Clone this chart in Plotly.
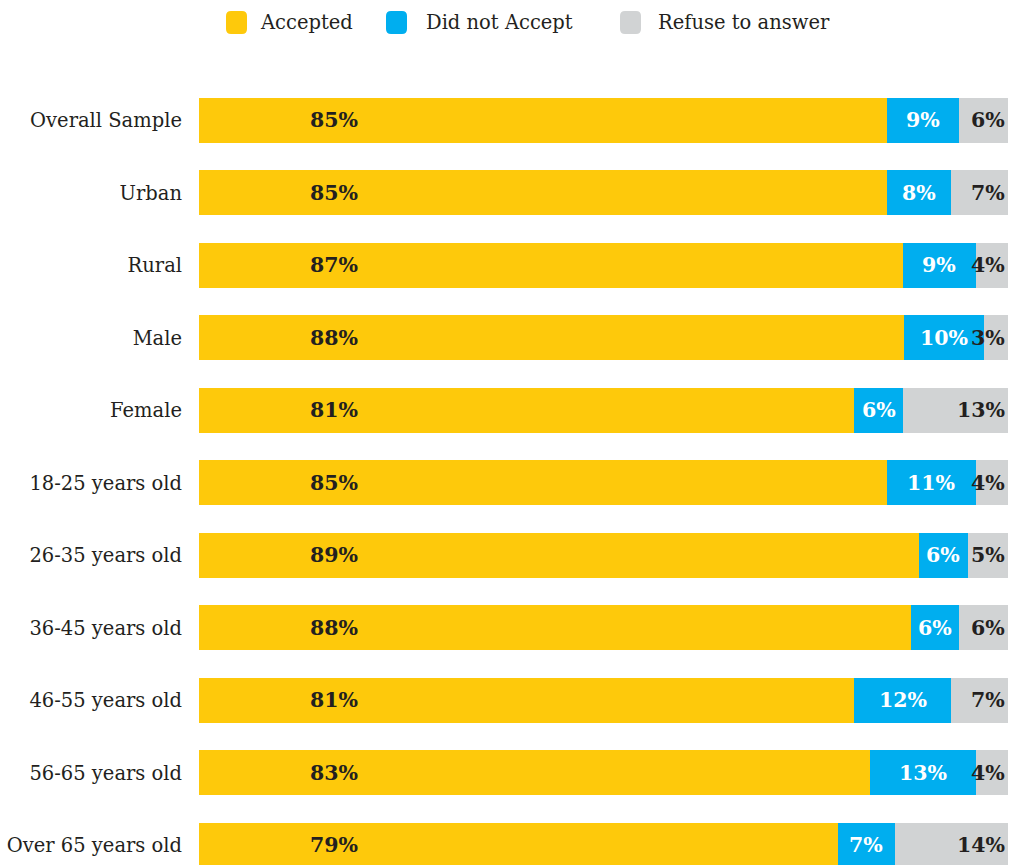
import plotly.graph_objects as go

# Survey responses by group (percent of respondents)
groups = [
    "Overall Sample", "Urban", "Rural", "Male", "Female",
    "18-25 years old", "26-35 years old", "36-45 years old",
    "46-55 years old", "56-65 years old", "Over 65 years old",
]
accepted = [85, 85, 87, 88, 81, 85, 89, 88, 81, 83, 79]
did_not_accept = [9, 8, 9, 10, 6, 11, 6, 6, 12, 13, 7]
refused = [6, 7, 4, 3, 13, 4, 5, 6, 7, 4, 14]
series_names = ["Accepted", "Did not Accept", "Refuse to answer"]

colors = ["#FEC90B", "#00AEEF", "#D1D3D4"]
text_colors = ["#231F20", "#FFFFFF", "#231F20"]
FONT = "DejaVu Serif"

W, H = 1015, 865
M_L, M_R, M_T, M_B = 199, 7, 84, 0
PW, PH = W - M_L - M_R, H - M_T - M_B

series = [accepted, did_not_accept, refused]

fig = go.Figure()
for name, vals, col in zip(series_names, series, colors):
    fig.add_trace(go.Bar(
        y=groups, x=vals, name=name, orientation="h",
        marker=dict(color=col, line=dict(width=0)),
        showlegend=False,
        hovertemplate="%{y}: %{x}%<extra>" + name + "</extra>",
    ))

# Value labels, placed from the normalised cumulative shares
annotations = []
for i, g in enumerate(groups):
    total = accepted[i] + did_not_accept[i] + refused[i]
    a = accepted[i] / total * 100
    b = did_not_accept[i] / total * 100
    annotations.append(dict(x=16.7, y=g, xref="x", yref="y", text=f"<b>{accepted[i]}%</b>",
                            showarrow=False, xanchor="center", yanchor="middle",
                            font=dict(family=FONT, size=20.5, color=text_colors[0])))
    annotations.append(dict(x=a + b / 2, y=g, xref="x", yref="y",
                            text=f"<b>{did_not_accept[i]}%</b>",
                            showarrow=False, xanchor="center", yanchor="middle",
                            font=dict(family=FONT, size=20.5, color=text_colors[1])))
    annotations.append(dict(x=100, y=g, xref="x", yref="y", text=f"<b>{refused[i]}%</b>",
                            showarrow=False, xanchor="right", yanchor="middle", xshift=-1,
                            font=dict(family=FONT, size=20.5, color=text_colors[2])))


def px_x(px):
    return (px - M_L) / PW


def px_y(py):
    return (H - M_B - py) / PH


# Legend row across the top
shapes = []
legend_items = [(226, 258), (386, 424), (620, 656)]
for (sx, tx), name, col in zip(legend_items, series_names, colors):
    x0, x1 = px_x(sx), px_x(sx + 21)
    y1, y0 = px_y(11), px_y(34)
    rx, ry = 5 / PW, 5 / PH
    path = (f"M {x0+rx},{y0} L {x1-rx},{y0} Q {x1},{y0} {x1},{y0+ry} "
            f"L {x1},{y1-ry} Q {x1},{y1} {x1-rx},{y1} L {x0+rx},{y1} "
            f"Q {x0},{y1} {x0},{y1-ry} L {x0},{y0+ry} Q {x0},{y0} {x0+rx},{y0} Z")
    shapes.append(dict(type="path", path=path, xref="paper", yref="paper",
                       fillcolor=col, line=dict(width=0)))
    annotations.append(dict(x=px_x(tx), y=px_y(22), xref="paper", yref="paper",
                            text=name, showarrow=False, xanchor="left", yanchor="middle",
                            font=dict(family=FONT, size=19.5, color="#231F20")))

fig.update_layout(
    width=W, height=H,
    margin=dict(l=M_L, r=M_R, t=M_T, b=M_B),
    barmode="stack", barnorm="percent", bargap=0.38,
    plot_bgcolor="white", paper_bgcolor="white",
    xaxis=dict(range=[0, 100], visible=False, fixedrange=True),
    yaxis=dict(type="category", range=[10.27, -0.5], showgrid=False, zeroline=False,
               showline=False, ticks="", ticklabelstandoff=16,
               tickfont=dict(family=FONT, size=19.5, color="#231F20")),
    annotations=annotations,
    shapes=shapes,
    showlegend=False,
)

fig.write_html("out.html")
